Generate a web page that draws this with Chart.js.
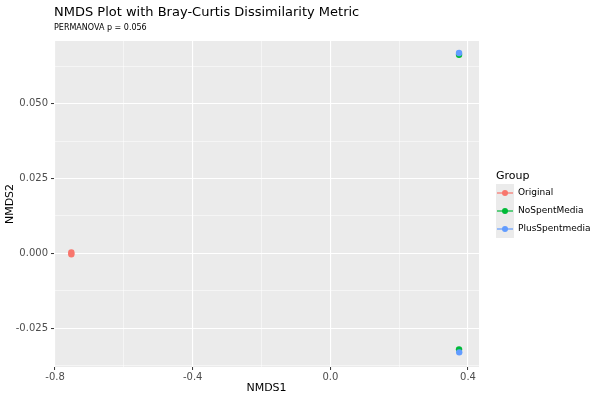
<!DOCTYPE html>
<html><head><meta charset="utf-8">
<script src="https://cdn.jsdelivr.net/npm/chart.js@4/dist/chart.umd.min.js"></script>
<style>html,body{margin:0;padding:0;background:#fff}#wrap{width:600px;height:400px;position:relative}</style>
</head><body><div id="wrap"><canvas id="c" width="600" height="400"></canvas></div>
<script>
const groups = ["Original", "NoSpentMedia", "PlusSpentmedia"];
const colors = ["#F8766D", "#00BA38", "#619CFF"];
const originalX = [-0.7526, -0.7526];
const originalY = [0.0003, -0.0003];
const noSpentX = [0.374, 0.374];
const noSpentY = [0.0664, -0.0321];
const plusSpentX = [0.374, 0.3745];
const plusSpentY = [0.0670, -0.0331];
const xTicks = [-0.8, -0.6, -0.4, -0.2, 0.0, 0.2, 0.4];
const xMajor = [-0.8, -0.4, 0.0, 0.4];
const yTicks = [-0.0375, -0.025, -0.0125, 0.0, 0.0125, 0.025, 0.0375, 0.05, 0.0625];
const yMajor = [-0.025, 0.0, 0.025, 0.05];
const titleText = "NMDS Plot with Bray-Curtis Dissimilarity Metric";
const subtitleText = "PERMANOVA p = 0.056";
const xTitle = "NMDS1", yTitle = "NMDS2", legendTitle = "Group";

const pts = (xs, ys) => xs.map((x, i) => ({x, y: ys[i]}));
const series = [pts(originalX, originalY), pts(noSpentX, noSpentY), pts(plusSpentX, plusSpentY)];
const isMajor = (arr, v) => arr.some(a => Math.abs(a - v) < 1e-9);

const FONT = "'DejaVu Sans', sans-serif";

const panelBg = {
  id: 'panelBg',
  beforeDraw(chart) {
    const {ctx, chartArea: a} = chart;
    ctx.save(); ctx.fillStyle = '#EBEBEB';
    ctx.fillRect(a.left, a.top, a.right - a.left, a.bottom - a.top);
    ctx.restore();
  },
  afterDraw(chart) {
    const ctx = chart.ctx;
    ctx.save();
    ctx.fillStyle = '#000'; ctx.textBaseline = 'alphabetic'; ctx.textAlign = 'left';
    ctx.font = "13px " + FONT;
    ctx.fillText(titleText, 54, 16);
    ctx.font = "8px " + FONT;
    ctx.fillText(subtitleText, 54, 30);
    // legend
    ctx.font = "11px " + FONT;
    ctx.fillStyle = '#000';
    ctx.fillText(legendTitle, 496, 179);
    groups.forEach((g, i) => {
      const cy = 193 + i * 18;
      ctx.fillStyle = '#EBEBEB';
      ctx.fillRect(496, cy - 9, 18, 18);
      ctx.strokeStyle = colors[i]; ctx.lineWidth = 1.2;
      ctx.beginPath(); ctx.moveTo(497, cy); ctx.lineTo(513, cy); ctx.stroke();
      ctx.fillStyle = colors[i];
      ctx.beginPath(); ctx.arc(505, cy, 3, 0, Math.PI * 2); ctx.fill();
      ctx.fillStyle = '#000'; ctx.font = "9px " + FONT; ctx.textBaseline = 'middle';
      ctx.fillText(g, 518, cy);
      ctx.textBaseline = 'alphabetic';
    });
    ctx.restore();
  }
};

new Chart(document.getElementById('c'), {
  type: 'scatter',
  data: {
    datasets: groups.map((g, i) => ({
      label: g, data: series[i], order: groups.length - 1 - i,
      backgroundColor: colors[i], borderColor: colors[i],
      pointRadius: 3.2, pointBorderWidth: 0, pointHoverRadius: 3.2
    }))
  },
  options: {
    responsive: false, animation: false, devicePixelRatio: 1,
    layout: {padding: {top: 41, right: 121, bottom: 0, left: 0}},
    plugins: {legend: {display: false}, tooltip: {enabled: false}},
    scales: {
      x: {
        type: 'linear', min: -0.803, max: 0.432,
        afterBuildTicks: s => { s.ticks = xTicks.map(v => ({value: v})); },
        afterFit: s => { s.height = 33; },
        border: {display: false},
        grid: {
          color: c => '#FFFFFF',
          lineWidth: c => (c.tick && isMajor(xMajor, c.tick.value)) ? 1.1 : 0.5,
          tickColor: c => (c.tick && isMajor(xMajor, c.tick.value)) ? '#333333' : 'rgba(0,0,0,0)',
          tickLength: 3, tickWidth: 1
        },
        ticks: {
          color: '#4D4D4D', font: {family: FONT, size: 10}, padding: 1,
          maxRotation: 0, autoSkip: false,
          callback: v => isMajor(xMajor, v) ? v.toFixed(1) : ''
        },
        title: {display: true, text: xTitle, color: '#000', font: {family: FONT, size: 11}, padding: {top: 0, bottom: 5}}
      },
      y: {
        type: 'linear', min: -0.0380, max: 0.0710,
        afterBuildTicks: s => { s.ticks = yTicks.map(v => ({value: v})); },
        afterFit: s => { s.width = 54; },
        border: {display: false},
        grid: {
          color: c => '#FFFFFF',
          lineWidth: c => (c.tick && isMajor(yMajor, c.tick.value)) ? 1.1 : 0.5,
          tickColor: c => (c.tick && isMajor(yMajor, c.tick.value)) ? '#333333' : 'rgba(0,0,0,0)',
          tickLength: 3, tickWidth: 1
        },
        ticks: {
          color: '#4D4D4D', font: {family: FONT, size: 10}, padding: 3, autoSkip: false,
          callback: v => isMajor(yMajor, v) ? v.toFixed(3) : ''
        },
        title: {display: true, text: yTitle, color: '#000', font: {family: FONT, size: 11}, padding: {top: 4, bottom: 0}}
      }
    }
  },
  plugins: [panelBg]
});
</script></body></html>
